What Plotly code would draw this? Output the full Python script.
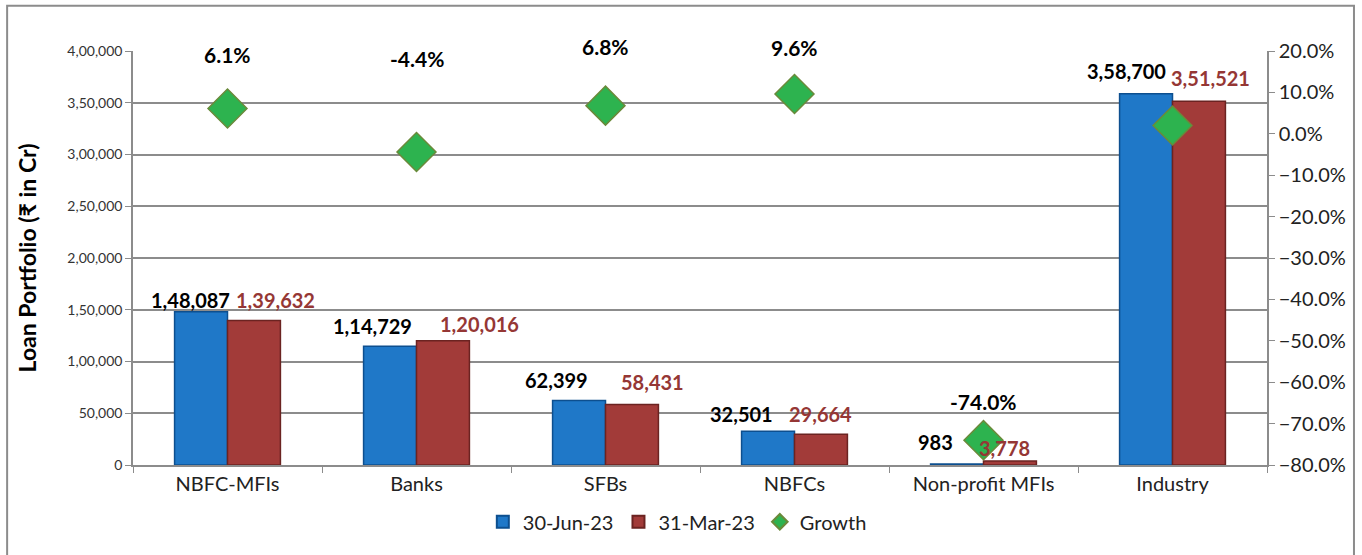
import plotly.graph_objects as go

categories = ["NBFC-MFIs", "Banks", "SFBs", "NBFCs", "Non-profit MFIs", "Industry"]
jun23 = [148087, 114729, 62399, 32501, 983, 358700]
mar23 = [139632, 120016, 58431, 29664, 3778, 351521]
growth = [0.061, -0.044, 0.068, 0.096, -0.740, 0.020]
growth_labels = ["6.1%", "-4.4%", "6.8%", "9.6%", "-74.0%", ""]
jun_labels = ["1,48,087", "1,14,729", "62,399", "32,501", "983", "3,58,700"]
mar_labels = ["1,39,632", "1,20,016", "58,431", "29,664", "3,778", "3,51,521"]
left_tickvals = [0, 50000, 100000, 150000, 200000, 250000, 300000, 350000, 400000]
left_ticktext = ["0", "50,000", "1,00,000", "1,50,000", "2,00,000", "2,50,000",
                 "3,00,000", "3,50,000", "4,00,000"]

FONT = "Lato, 'DejaVu Sans', sans-serif"
BLUE = "#1f78c8"
RED = "#a23b39"
GREEN = "#2db34f"

fig = go.Figure()
fig.add_trace(go.Bar(x=categories, y=jun23, name="30-Jun-23",
                     marker=dict(color=BLUE, line=dict(color="#0d4f8f", width=1.5))))
fig.add_trace(go.Bar(x=categories, y=mar23, name="31-Mar-23",
                     marker=dict(color=RED, line=dict(color="#6b2321", width=1.5))))
fig.add_trace(go.Scatter(x=categories, y=growth, name="Growth", yaxis="y2", mode="markers",
                         marker=dict(symbol="diamond", size=30, color=GREEN,
                                     line=dict(color="#6a8a3a", width=1.5))))

ann = []
# growth label vertical offsets (px)
g_shift = [54, 94, 59, 47, 39, 0]
j_xshift = [-11, -18, -23, -27, -22, -20]
j_yshift = [12, 20, 20, 17, 22, 23]
m_xshift = [22, 37, 21, 0, -5, 12]
m_yshift = [20, 17, 23, 20, 13, 23]
for i, c in enumerate(categories):
    if growth_labels[i]:
        ann.append(dict(x=c, y=growth[i], yref="y2", xref="x", text=growth_labels[i],
                        showarrow=False, yshift=g_shift[i],
                        font=dict(family=FONT, size=21, color="black", weight="bold")))
    ann.append(dict(x=i - 0.14, y=jun23[i], xref="x", yref="y", text=jun_labels[i],
                    showarrow=False, xshift=j_xshift[i], yshift=j_yshift[i],
                    font=dict(family=FONT, size=20, color="black", weight="bold")))
    ann.append(dict(x=i + 0.14, y=mar23[i], xref="x", yref="y", text=mar_labels[i],
                    showarrow=False, xshift=m_xshift[i], yshift=m_yshift[i],
                    font=dict(family=FONT, size=20, color="#953735", weight="bold")))

fig.update_layout(
    width=1362, height=555,
    margin=dict(l=133, r=95, t=51, b=90),
    paper_bgcolor="white", plot_bgcolor="white",
    barmode="group", bargap=0.44, bargroupgap=0,
    font=dict(family=FONT, color="#222222"),
    showlegend=True,
    legend=dict(orientation="h", x=0.48, xanchor="center", y=-0.09, yanchor="top",
                font=dict(family=FONT, size=20, color="#222222"),
                itemsizing="constant", itemwidth=30, tracegroupgap=0),
    xaxis=dict(showline=True, linecolor="#8c8c8c", linewidth=1.5,
               ticks="outside", tickson="boundaries", ticklen=6, tickcolor="#8c8c8c",
               tickfont=dict(family=FONT, size=20, color="#222222"), showgrid=False),
    yaxis=dict(range=[0, 400000], tickvals=left_tickvals, ticktext=left_ticktext,
               showline=True, linecolor="#8c8c8c", linewidth=1.5,
               ticks="outside", ticklen=6, tickcolor="#8c8c8c",
               showgrid=True, gridcolor="#8c8c8c", gridwidth=1.5,
               tickfont=dict(family=FONT, size=14, color="#333333"),
               title=dict(text="Loan Portfolio (₹ in Cr)", standoff=24,
                          font=dict(family=FONT, size=23, color="black", weight="bold")),
               zeroline=False),
    yaxis2=dict(range=[-0.8, 0.2], dtick=0.1, tickformat=".1%", overlaying="y", side="right",
                showline=True, linecolor="#8c8c8c", linewidth=1.5,
                ticks="outside", ticklen=6, tickcolor="#8c8c8c",
                showgrid=False, zeroline=False,
                tickfont=dict(family=FONT, size=20, color="#222222")),
    annotations=ann,
    shapes=[dict(type="rect", xref="paper", yref="paper", x0=-0.111, x1=1.0767,
                 y0=-0.3, y1=1.109, line=dict(color="#8c8c8c", width=2))],
)

fig.write_html("out.html")
